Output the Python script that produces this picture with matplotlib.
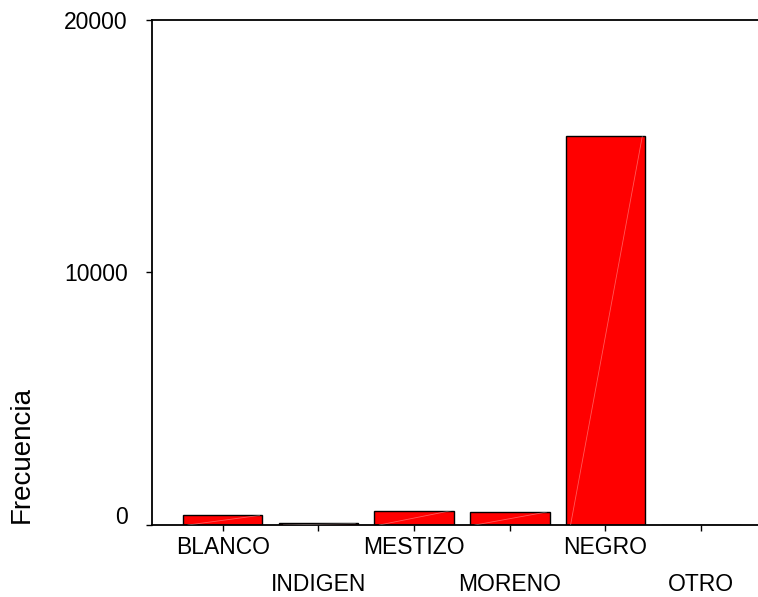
import matplotlib.pyplot as plt
import matplotlib.transforms as mtransforms

plt.rcParams['font.family'] = ['Liberation Sans', 'DejaVu Sans']

categories = ["BLANCO", "INDIGEN", "MESTIZO", "MORENO", "NEGRO", "OTRO"]
frecuencia = [380, 60, 566, 514, 15390, 0]
yticks = [0, 10000, 20000]

fig = plt.figure(figsize=(7.58, 5.97), dpi=100)
ax = fig.add_axes([0.2005, 0.1206, 0.799, 0.8466])

x = list(range(len(categories)))
bars = ax.bar(x, frecuencia, width=0.83, color="#ff0000",
              edgecolor="black", linewidth=1.0, zorder=2)

# faint diagonal streak inside each bar, like the original render
for b in bars:
    if b.get_height() > 0:
        x0, y0 = b.get_x(), b.get_y()
        ax.plot([x0 + 0.05, x0 + b.get_width() - 0.03], [y0, y0 + b.get_height()],
                color="white", lw=0.6, alpha=0.35, zorder=3)

ax.set_xlim(-0.74, 5.59)
ax.set_ylim(0, 20000)
ax.set_yticks(yticks)
ax.set_yticklabels([str(v) for v in yticks])
ax.set_xticks(x)
ax.set_xticklabels(categories)

ax.tick_params(axis='both', direction='out', length=4.5, width=1.0,
               labelsize=16.5, color='black')
ax.tick_params(axis='y', pad=13)

# staggered category labels
for i, t in enumerate(ax.xaxis.get_major_ticks()):
    t.set_pad(3.5 if i % 2 == 0 else 29.8)

# lift the 0 label a bit above the baseline
lab0 = ax.get_yticklabels()[0]
lab0.set_transform(lab0.get_transform() +
                   mtransforms.ScaledTranslation(0, 7 / 72, fig.dpi_scale_trans))

for s in ['left', 'top', 'bottom']:
    ax.spines[s].set_linewidth(1.3)
ax.spines['right'].set_visible(False)

ax.set_ylabel("Frecuencia", fontsize=20)
ax.yaxis.set_label_coords(-0.193, 0.14)

fig.savefig("out.png", dpi=100)
